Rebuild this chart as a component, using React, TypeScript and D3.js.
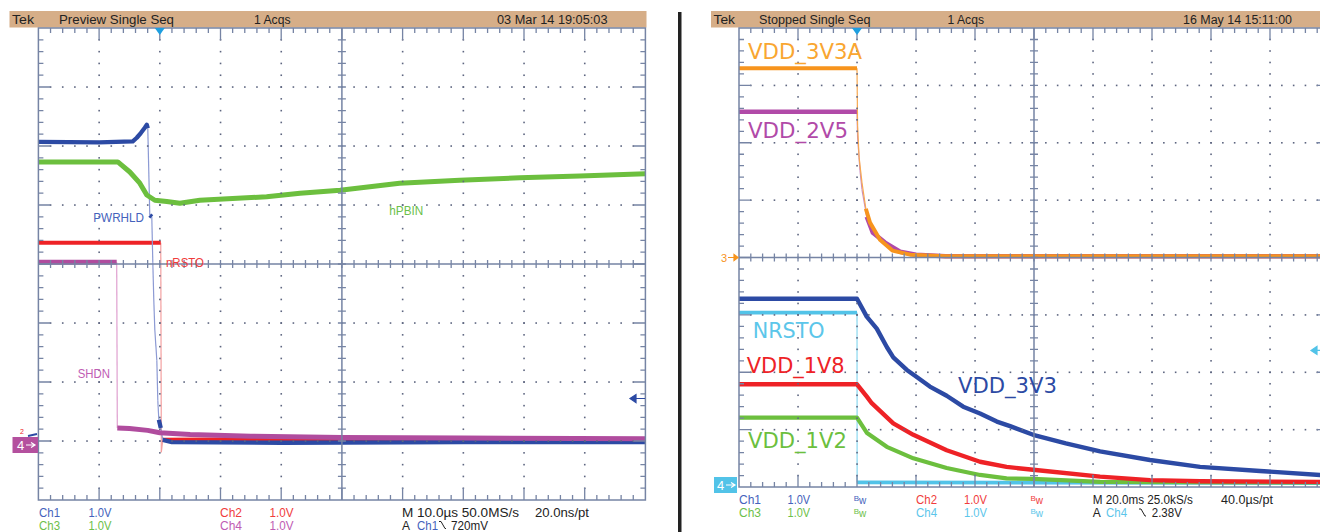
import React from 'react';
import * as d3 from 'd3';

type Pt = [number, number];

// ---------- Left capture (time in µs, volts above ground) ----------
const pwrhld: Pt[] = [
  [-20, 5.07], [-10, 5.06], [-4.45, 5.08], [-3.79, 5.14], [-3.13, 5.22], [-2.47, 5.31], [-2.14, 5.36],
  [-1.98, 5.3], [-1.65, 3.83], [-1.32, 3.8], [-1.15, 3.02], [-0.99, 2.39], [-0.82, 1.88], [-0.49, 1.37],
  [-0.33, 0.69], [-0.16, 0.36], [0.16, 0.22], [0.49, 0.02], [2, -0.02], [20, -0.03], [50, -0.02], [80, -0.02],
];
const hpbin: Pt[] = [
  [-20, 4.73], [-6.92, 4.73], [-4.94, 4.56], [-3.29, 4.37], [-2.14, 4.17], [-0.82, 4.08], [1.15, 4.06],
  [3.3, 4.03], [6.6, 4.08], [12.0, 4.11], [17.6, 4.14], [23.1, 4.2], [29.7, 4.25], [39.5, 4.37],
  [49.4, 4.42], [59.3, 4.46], [69.2, 4.49], [80, 4.53],
];
const nrstoL: Pt[] = [
  [-20, 3.36], [0.16, 3.36], [0.25, -0.19], [0.49, 0.02], [20, 0.03], [50, 0.03], [80, 0.03],
];
const shdn: Pt[] = [
  [-20, 3.03], [-7.1, 3.03], [-7.0, 0.22], [-5, 0.21], [-2, 0.18], [0, 0.14], [5, 0.11], [15, 0.08],
  [30, 0.06], [50, 0.05], [80, 0.04],
];

// ---------- Right capture (time in ms, volts above ground) ----------
const vdd3v3a: Pt[] = [
  [-40, 3.3], [0, 3.3], [0.2, 2.3], [0.7, 1.75], [1.7, 1.3], [3, 0.85], [4.4, 0.61], [7.8, 0.31],
  [12, 0.12], [18, 0.05], [30, 0.02], [160, 0.02],
];
const vdd2v5: Pt[] = [
  [-40, 2.54], [0, 2.54], [0.2, 2.1], [1.0, 1.52], [1.7, 1.18], [3.3, 0.71], [5.4, 0.43], [9.5, 0.26],
  [14.6, 0.1], [20, 0.05], [30, 0.02], [160, 0.02],
];
const vdd3v3: Pt[] = [
  [-40, 3.28], [0, 3.28], [3.3, 2.97], [6.7, 2.76], [10.1, 2.44], [12.3, 2.26], [16.9, 2.04], [19.9, 1.93],
  [24.7, 1.75], [30.4, 1.59], [36.0, 1.4], [41.7, 1.28], [47.4, 1.14], [51.9, 1.06], [59.7, 0.91],
  [70.8, 0.76], [82.4, 0.62], [99.3, 0.47], [116.3, 0.35], [136.6, 0.28], [157, 0.21],
];
const vdd1v8: Pt[] = [
  [-40, 1.79], [0, 1.79], [3.4, 1.57], [5.0, 1.46], [12.3, 1.11], [19.1, 0.91], [30.4, 0.64], [41.7, 0.44],
  [50.7, 0.35], [59.7, 0.3], [82.4, 0.18], [99.3, 0.12], [116.3, 0.1], [157, 0.09],
];
const vdd1v2: Pt[] = [
  [-40, 1.21], [0, 1.21], [3.4, 0.94], [10.1, 0.7], [19.1, 0.5], [30.4, 0.33], [41.7, 0.21], [50.7, 0.15],
  [59.7, 0.14], [82.4, 0.09], [157, 0.08],
];
const nrstoR: Pt[] = [[-40, 3.04], [0, 3.04], [0.05, 0.08], [157, 0.07]];

const leftHeader = ['Tek', 'Preview  Single Seq', '1 Acqs', '03 Mar 14 19:05:03'];
const rightHeader = ['Tek', 'Stopped  Single Seq', '1 Acqs', '16 May 14 15:11:00'];

// ---------- styles ----------
const GRID = '#7684a4';
const DOT = '#5e6680';
const HEAD = '#d6ae88';
const C = {
  blue: '#2c4aa4', green: '#6cbf3e', red: '#ee2226', mag: '#b04c9e', orange: '#f7941d',
  mag2: '#b14aa8', cyan: '#52c3e8',
  tBlue: '#4462bc', tRed: '#f03c3c', tGreen: '#6cc04a', tMag: '#c05cb4', tCyan: '#5cc6ea',
};
const SANS = 'Liberation Sans, Arial, sans-serif';

// scales
const xL = d3.scaleLinear().domain([-20, 80]).range([38.4, 645.4]);
const yL = d3.scaleLinear().domain([-1, 7]).range([500, 28]);
const xR = d3.scaleLinear().domain([-40, 160]).range([739, 1329]);
const yR3 = d3.scaleLinear().domain([-4, 4]).range([487, 28]);
const yR4 = d3.scaleLinear().domain([0, 8]).range([487, 28]);

function Txt({ x, y, w, size = 12, fill = '#222', family = SANS, children }: any) {
  return (
    <text x={x} y={y} fontSize={size} fill={fill} fontFamily={family} textLength={w} lengthAdjust="spacingAndGlyphs">
      {children}
    </text>
  );
}

function Trace({ data, x, y, color, thinColor, thick = 4.5, thin = 1.2, steep = 5 }: any) {
  const pts: Pt[] = data.map((d: Pt) => [x(d[0]), y(d[1])]);
  const line = d3.line();
  const runs: Pt[][] = [];
  const edges: Pt[][] = [];
  let cur: Pt[] = [pts[0]];
  for (let i = 1; i < pts.length; i++) {
    const [x0, y0] = pts[i - 1];
    const [x1, y1] = pts[i];
    const s = Math.abs(y1 - y0) / Math.max(Math.abs(x1 - x0), 0.01);
    if (s > steep) {
      if (cur.length > 1) runs.push(cur);
      cur = [pts[i]];
      edges.push([pts[i - 1], pts[i]]);
    } else cur.push(pts[i]);
  }
  if (cur.length > 1) runs.push(cur);
  return (
    <g>
      {edges.map((e, i) => (
        <path key={'e' + i} d={line(e) || ''} stroke={thinColor || color} strokeWidth={thin} fill="none" />
      ))}
      {runs.map((r, i) => (
        <path key={'r' + i} d={line(r) || ''} stroke={color} strokeWidth={thick} fill="none" strokeLinejoin="round" />
      ))}
    </g>
  );
}

function Graticule({ x0, x1, y0, y1 }: any) {
  const dx = (x1 - x0) / 10;
  const dy = (y1 - y0) / 8;
  const cx = x0 + 5 * dx;
  const cy = y0 + 4 * dy;
  const dots: Pt[] = [];
  for (let i = 1; i < 10; i++) {
    if (i === 5) continue;
    for (let k = 1; k < 40; k++) dots.push([x0 + i * dx, y0 + (k * dy) / 5]);
  }
  for (let j = 1; j < 8; j++) {
    if (j === 4) continue;
    for (let k = 1; k < 50; k++) dots.push([x0 + (k * dx) / 5, y0 + j * dy]);
  }
  const ticks: string[] = [];
  for (let k = 1; k < 50; k++) {
    const x = x0 + (k * dx) / 5;
    const len = k % 5 === 0 ? 12 : 5;
    ticks.push(`M${x},${cy - 4}V${cy + 4}`);
    ticks.push(`M${x},${y0}V${y0 + len}`);
    ticks.push(`M${x},${y1}V${y1 - len}`);
  }
  for (let k = 1; k < 40; k++) {
    const y = y0 + (k * dy) / 5;
    const len = k % 5 === 0 ? 12 : 5;
    ticks.push(`M${cx - 4},${y}H${cx + 4}`);
    ticks.push(`M${x0},${y}H${x0 + len}`);
    ticks.push(`M${x1},${y}H${x1 - len}`);
  }
  return (
    <g>
      {dots.map((d, i) => (
        <rect key={i} x={d[0] - 0.75} y={d[1] - 0.75} width={1.6} height={1.6} fill={DOT} />
      ))}
      <rect x={x0} y={y0} width={x1 - x0} height={y1 - y0} fill="none" stroke={GRID} strokeWidth={1.5} />
      <path d={`M${cx},${y0}V${y1}M${x0},${cy}H${x1}`} stroke={GRID} strokeWidth={1.5} />
      <path d={ticks.join('')} stroke={GRID} strokeWidth={1.3} />
    </g>
  );
}

function Slope({ x, y, color }: any) {
  return <path d={`M${x},${y - 7}h2l4,7h1`} stroke={color} strokeWidth={1} fill="none" />;
}

function Bw({ x, y, color }: any) {
  return (
    <text x={x} y={y} fill={color} fontFamily={SANS}>
      <tspan fontSize={8} dy={-3}>B</tspan>
      <tspan fontSize={10} dy={3}>w</tspan>
    </text>
  );
}

export default function App() {
  const LF = 'DejaVu Sans, Verdana, sans-serif';
  const r2 = 529.5;
  return (
    <svg width={1320} height={532} viewBox="0 0 1320 532"
      style={{ position: 'fixed', left: 0, top: 0, background: '#fff' }}>
      <rect x={0} y={0} width={1320} height={532} fill="#fff" />

      {/* ---------------- LEFT ---------------- */}
      <rect x={9.5} y={11} width={637} height={16.5} fill={HEAD} />
      <Txt x={12} y={23.5} w={22}>{leftHeader[0]}</Txt>
      <Txt x={59} y={23.5} w={115}>{leftHeader[1]}</Txt>
      <Txt x={254} y={23.5} w={36.5}>{leftHeader[2]}</Txt>
      <Txt x={497} y={23.5} w={110.5}>{leftHeader[3]}</Txt>

      <Trace data={nrstoL} x={xL} y={yL} color={C.red} thinColor="#f4a0a0" thick={4.2} />
      <Trace data={pwrhld} x={xL} y={yL} color={C.blue} thinColor="#8c9ad4" thick={4.3} />
      <Trace data={shdn} x={xL} y={yL} color={C.mag} thinColor="#e0a0d0" thick={5} />
      <Trace data={hpbin} x={xL} y={yL} color={C.green} thick={5} />
      <Graticule x0={38.4} x1={645.4} y0={28} y1={500} />

      <Txt x={93.3} y={221.5} w={50.7} fill={C.tBlue}>PWRHLD</Txt>
      <Txt x={166} y={267} w={38} fill={C.tRed}>nRSTO</Txt>
      <Txt x={389.3} y={215} w={34} fill={C.tGreen}>hPBIN</Txt>
      <Txt x={77.7} y={377.5} w={32.3} fill={C.tMag}>SHDN</Txt>

      {/* trigger position & level */}
      <path d={`M${xL(0) - 5},28L${xL(0) + 5},28L${xL(0)},35Z`} fill="#1e9fe0" />
      <path d={`M${630},${yL(0.72)}L${636},${yL(0.72) - 4}V${yL(0.72) + 4}Z M${634},${yL(0.72)}H${645}`}
        fill={C.blue} stroke={C.blue} strokeWidth={1.2} />

      {/* ground markers */}
      <text x={20} y={434} fontSize={7} fill={C.red} fontFamily={SANS}>2</text>
      <path d={`M28,${yL(0) - 5}L37,${yL(0) - 7}`} stroke={C.blue} strokeWidth={2} />
      <rect x={12.5} y={yL(0) - 4} width={25.5} height={16} fill="#b4509e" />
      <text x={17} y={yL(0) + 9} fontSize={13} fill="#fff" fontFamily={SANS}>4</text>
      <path d={`M26,${yL(0) + 4}H34M31,${yL(0) + 1.5}L35,${yL(0) + 4}L31,${yL(0) + 6.5}`} stroke="#fff" strokeWidth={1.2} fill="none" />

      {/* footer */}
      <Txt x={39} y={517} w={21} fill={C.tBlue}>Ch1</Txt>
      <Txt x={88.4} y={517} w={23} fill={C.tBlue}>1.0V</Txt>
      <Txt x={220} y={517} w={22} fill={C.tRed}>Ch2</Txt>
      <Txt x={269.5} y={517} w={24} fill={C.tRed}>1.0V</Txt>
      <Txt x={402} y={517} w={117}>M 10.0µs 50.0MS/s</Txt>
      <Txt x={535} y={517} w={54}>20.0ns/pt</Txt>
      <Txt x={39} y={r2} w={21} fill={C.tGreen}>Ch3</Txt>
      <Txt x={88.4} y={r2} w={23} fill={C.tGreen}>1.0V</Txt>
      <Txt x={220} y={r2} w={22} fill={C.tMag}>Ch4</Txt>
      <Txt x={269.5} y={r2} w={24} fill={C.tMag}>1.0V</Txt>
      <Txt x={402} y={r2} w={8}>A</Txt>
      <Txt x={417} y={r2} w={21} fill={C.tBlue}>Ch1</Txt>
      <Slope x={439} y={r2 - 1} color="#222" />
      <Txt x={451} y={r2} w={37}>720mV</Txt>

      {/* separator */}
      <rect x={678} y={12} width={3.5} height={520} fill="#222" />

      {/* ---------------- RIGHT ---------------- */}
      <rect x={711} y={11} width={609} height={16.5} fill={HEAD} />
      <Txt x={713.5} y={23.5} w={21.5}>{rightHeader[0]}</Txt>
      <Txt x={759} y={23.5} w={111.5}>{rightHeader[1]}</Txt>
      <Txt x={947.6} y={23.5} w={36.4}>{rightHeader[2]}</Txt>
      <Txt x={1183} y={23.5} w={109}>{rightHeader[3]}</Txt>

      <Trace data={vdd2v5} x={xR} y={yR3} color={C.mag2} thinColor="#c98cc4" thick={4.5} />
      <Trace data={vdd3v3a} x={xR} y={yR3} color={C.orange} thinColor="#f7a850" thick={4} />
      <Trace data={nrstoR} x={xR} y={yR4} color={C.cyan} thinColor="#8ad8f0" thick={3.8} />
      <Trace data={vdd1v2} x={xR} y={yR4} color={C.green} thick={4.2} />
      <Trace data={vdd1v8} x={xR} y={yR4} color={C.red} thick={4.4} />
      <Trace data={vdd3v3} x={xR} y={yR4} color={C.blue} thick={4.4} />
      <Graticule x0={739} x1={1329} y0={28} y1={487} />

      <Txt x={748} y={59} w={114} size={21} family={LF} fill="#f9a631">VDD_3V3A</Txt>
      <Txt x={748} y={138} w={100} size={21} family={LF} fill={C.mag2}>VDD_2V5</Txt>
      <Txt x={752.7} y={338} w={72} size={21} family={LF} fill={C.tCyan}>NRSTO</Txt>
      <Txt x={746.7} y={373} w={98} size={21} family={LF} fill={C.red}>VDD_1V8</Txt>
      <Txt x={748} y={448} w={99} size={21} family={LF} fill={C.green}>VDD_1V2</Txt>
      <Txt x={958} y={393} w={99} size={21} family={LF} fill={C.blue}>VDD_3V3</Txt>

      <path d={`M${xR(0) - 5},28L${xR(0) + 5},28L${xR(0)},35Z`} fill="#1e9fe0" />
      <path d={`M1311,${yR4(2.38)}L1317,${yR4(2.38) - 4}V${yR4(2.38) + 4}Z M1315,${yR4(2.38)}H1320`}
        fill={C.cyan} stroke={C.cyan} strokeWidth={1.2} />

      <text x={721} y={yR3(0) + 4} fontSize={11} fill={C.orange} fontFamily={SANS}>3</text>
      <path d={`M728,${yR3(0)}H737M734,${yR3(0) - 3}L738,${yR3(0)}L734,${yR3(0) + 3}Z`} stroke={C.orange} fill={C.orange} strokeWidth={1.2} />
      <rect x={714} y={yR4(0) - 10} width={23} height={16} fill={C.cyan} />
      <text x={717} y={yR4(0) + 3} fontSize={13} fill="#fff" fontFamily={SANS}>4</text>
      <path d={`M726,${yR4(0) - 2}H734M731,${yR4(0) - 4.5}L735,${yR4(0) - 2}L731,${yR4(0) + 0.5}`} stroke="#fff" strokeWidth={1.2} fill="none" />

      <Txt x={739} y={504} w={22} fill={C.tBlue}>Ch1</Txt>
      <Txt x={787.6} y={504} w={22.5} fill={C.tBlue}>1.0V</Txt>
      <Bw x={853.7} y={504} color={C.tBlue} />
      <Txt x={916} y={504} w={21} fill={C.tRed}>Ch2</Txt>
      <Txt x={964} y={504} w={23} fill={C.tRed}>1.0V</Txt>
      <Bw x={1030.5} y={504} color={C.tRed} />
      <Txt x={1092.8} y={504} w={100}>M 20.0ms 25.0kS/s</Txt>
      <Txt x={1221} y={504} w={52}>40.0µs/pt</Txt>
      <Txt x={739} y={517} w={22} fill={C.tGreen}>Ch3</Txt>
      <Txt x={787.6} y={517} w={22.5} fill={C.tGreen}>1.0V</Txt>
      <Bw x={853.7} y={517} color={C.tGreen} />
      <Txt x={916} y={517} w={21} fill={C.tCyan}>Ch4</Txt>
      <Txt x={964} y={517} w={23} fill={C.tCyan}>1.0V</Txt>
      <Bw x={1030.5} y={517} color={C.tCyan} />
      <Txt x={1092.8} y={517} w={8}>A</Txt>
      <Txt x={1106} y={517} w={21} fill={C.tCyan}>Ch4</Txt>
      <Slope x={1139} y={516} color="#222" />
      <Txt x={1151.8} y={517} w={30}>2.38V</Txt>
    </svg>
  );
}
